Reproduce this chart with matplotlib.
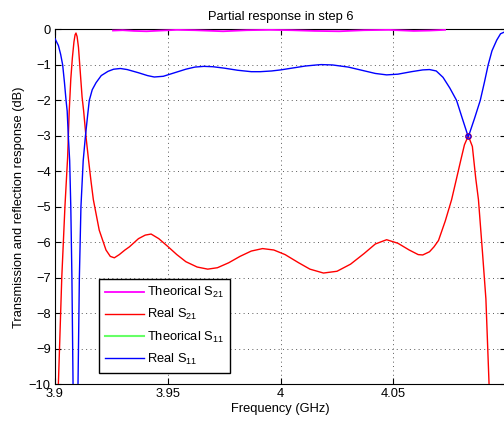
import matplotlib
matplotlib.use("Agg")
import matplotlib.pyplot as plt

# ---- data (frequency in GHz, response in dB) ----
f_s11 = [3.9000, 3.9015, 3.9025, 3.9034, 3.9042, 3.9049, 3.9054, 3.9059, 3.9065,
         3.9070, 3.9075, 3.9080, 3.9090, 3.9102, 3.9108, 3.9115, 3.9125, 3.9135,
         3.9145, 3.9152, 3.9165, 3.9182, 3.9205, 3.9235, 3.9260, 3.9290, 3.9320,
         3.9370, 3.9410, 3.9440, 3.9480, 3.9530, 3.9580, 3.9620, 3.9660, 3.9700,
         3.9750, 3.9810, 3.9870, 3.9910, 3.9960, 4.0000, 4.0060, 4.0110, 4.0160,
         4.0180, 4.0230, 4.0300, 4.0360, 4.0420, 4.0470, 4.0520, 4.0580, 4.0630,
         4.0660, 4.0690, 4.0720, 4.0750, 4.0780, 4.0805, 4.0832, 4.0860, 4.0885,
         4.0903, 4.0920, 4.0937, 4.0958, 4.0975, 4.1000]
real_s11 = [-0.26, -0.45, -0.70, -1.00, -1.50, -2.00, -2.30, -3.00, -3.70,
            -5.00, -7.00, -10.0, -18.0, -10.0, -7.00, -5.00, -3.70, -3.00,
            -2.40, -2.00, -1.70, -1.50, -1.30, -1.18, -1.12, -1.10, -1.13,
            -1.22, -1.30, -1.34, -1.32, -1.22, -1.12, -1.06, -1.04, -1.05,
            -1.09, -1.15, -1.19, -1.19, -1.17, -1.14, -1.08, -1.03, -1.00,
            -0.99, -1.00, -1.06, -1.15, -1.24, -1.28, -1.26, -1.19, -1.14,
            -1.13, -1.17, -1.35, -1.65, -2.00, -2.50, -3.03, -2.50, -2.00,
            -1.50, -1.00, -0.60, -0.30, -0.12, -0.05]

f_s21 = [3.9015, 3.9030, 3.9044, 3.9056, 3.9063, 3.9070, 3.9077, 3.9084, 3.9089,
         3.9093, 3.9098, 3.9104, 3.9112, 3.9120, 3.9127, 3.9137, 3.9149, 3.9160,
         3.9170, 3.9196, 3.9226, 3.9245, 3.9263, 3.9285, 3.9310, 3.9330, 3.9370,
         3.9400, 3.9426, 3.9460, 3.9500, 3.9540, 3.9580, 3.9630, 3.9677, 3.9720,
         3.9770, 3.9820, 3.9870, 3.9920, 3.9970, 4.0020, 4.0080, 4.0130, 4.0190,
         4.0250, 4.0310, 4.0370, 4.0420, 4.0470, 4.0520, 4.0570, 4.0610, 4.0630,
         4.0660, 4.0680, 4.0700, 4.0730, 4.0758, 4.0780, 4.0800, 4.0815, 4.0832,
         4.0850, 4.0865, 4.0877, 4.0895, 4.0910, 4.0924, 4.0940]
real_s21 = [-10.0, -7.00, -5.00, -3.60, -2.30, -1.40, -0.80, -0.35, -0.15,
            -0.10, -0.20, -0.50, -1.20, -1.90, -2.30, -3.00, -3.70, -4.30,
            -4.80, -5.66, -6.22, -6.40, -6.44, -6.35, -6.22, -6.13, -5.90,
            -5.80, -5.77, -5.90, -6.12, -6.35, -6.55, -6.70, -6.76, -6.72,
            -6.58, -6.40, -6.25, -6.18, -6.22, -6.35, -6.58, -6.76, -6.87,
            -6.82, -6.62, -6.32, -6.05, -5.93, -6.03, -6.22, -6.35, -6.36,
            -6.27, -6.13, -5.95, -5.40, -4.80, -4.20, -3.65, -3.25, -3.00,
            -3.30, -4.20, -4.80, -6.30, -7.60, -10.0, -12.0]

f_theo_s21 = [3.9257, 3.9300, 3.9350, 3.9406, 3.9470, 3.9540, 3.9620, 3.9745, 3.9850,
              3.9950, 4.0050, 4.0150, 4.0260, 4.0370, 4.0480, 4.0590, 4.0660, 4.0729]
theo_s21 = [-0.03, -0.02, -0.04, -0.05, -0.03, -0.01, -0.02, -0.05, -0.02,
            -0.01, -0.02, -0.04, -0.05, -0.02, -0.01, -0.04, -0.03, -0.01]

# -3 dB marker point
f_mark = [4.0832]
db_mark = [-3.0]

labels = ["Theorical $\\mathregular{S_{21}}$", "Real $\\mathregular{S_{21}}$",
          "Theorical $\\mathregular{S_{11}}$", "Real $\\mathregular{S_{11}}$"]
xticks = [3.9, 3.95, 4.0, 4.05]
xticklabels = ["3.9", "3.95", "4", "4.05"]
yticks = list(range(-10, 1))

FS = 9.3
plt.rcParams['font.family'] = ['Liberation Sans', 'DejaVu Sans']
plt.rcParams['font.size'] = FS

fig = plt.figure(figsize=(5.04, 4.23), dpi=100)
ax = fig.add_axes([55 / 504, 39 / 423, 451.2 / 504, 354.5 / 423])

ax.plot(f_theo_s21, theo_s21, color='#ff00ff', lw=1.3, label=labels[0], zorder=3)
ax.plot(f_s21, real_s21, color='#ff0000', lw=1.0, label=labels[1], zorder=3)
ax.plot([], [], color='#66ff66', lw=1.5, label=labels[2])
ax.plot(f_s11, real_s11, color='#0000ff', lw=1.0, label=labels[3], zorder=4)
ax.plot(f_mark, db_mark, 'o', ms=4, mfc='none', mec='#ff0000', mew=0.8, zorder=5)
ax.plot(f_mark, db_mark, 'o', ms=3.5, mfc='none', mec='#0000ff', mew=0.8, zorder=6)

ax.set_xlim(3.9, 4.1)
ax.set_ylim(-10, 0)
ax.set_xticks(xticks)
ax.set_xticklabels(xticklabels)
ax.set_yticks(yticks)
ax.tick_params(direction='in', length=4, width=0.8, top=True, right=True, labelsize=FS, pad=3)
ax.grid(True, color='0.35', linestyle=(0, (1, 3.5)), linewidth=0.7)
for s in ax.spines.values():
    s.set_linewidth(0.8)

ax.set_title("Partial response in step 6", fontsize=FS, pad=6.5)
ax.set_xlabel("Frequency (GHz)", fontsize=FS, labelpad=2)
ax.set_ylabel("Transmission and reflection response (dB)", fontsize=FS, labelpad=3)

leg = ax.legend(loc='lower left', bbox_to_anchor=(0.0975, 0.032), borderaxespad=0,
                fancybox=False, edgecolor='black', framealpha=1, fontsize=FS,
                handlelength=3.0, handletextpad=0.3, labelspacing=0.55, borderpad=0.45)
leg.get_frame().set_linewidth(1.0)

fig.savefig("out.png", dpi=100)
